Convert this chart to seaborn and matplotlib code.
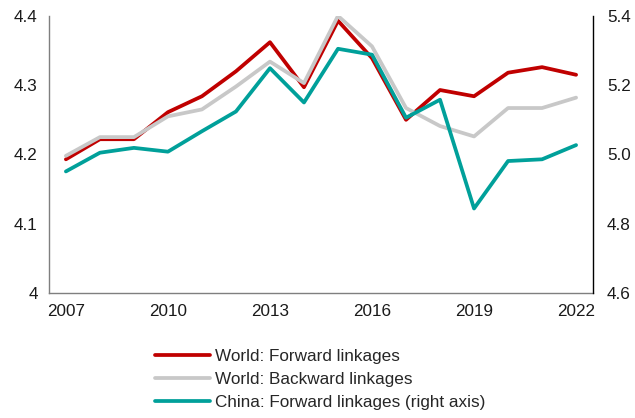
import matplotlib
matplotlib.use("Agg")
import matplotlib.pyplot as plt
import seaborn as sns
import pandas as pd

years = list(range(2007, 2023))
world_forward = [4.193, 4.222, 4.222, 4.261, 4.284, 4.320, 4.362, 4.297,
                 4.393, 4.339, 4.250, 4.293, 4.284, 4.318, 4.326, 4.315]
world_backward = [4.198, 4.225, 4.225, 4.255, 4.265, 4.298, 4.334, 4.303,
                  4.400, 4.356, 4.267, 4.241, 4.226, 4.267, 4.267, 4.282]
china_forward = [4.951, 5.005, 5.019, 5.008, 5.067, 5.124, 5.249, 5.150,
                 5.305, 5.288, 5.106, 5.158, 4.844, 4.981, 4.986, 5.027]
labels = ["World: Forward linkages", "World: Backward linkages",
          "China: Forward linkages (right axis)"]
left_ticks = [4.0, 4.1, 4.2, 4.3, 4.4]
left_ticklabels = ["4", "4.1", "4.2", "4.3", "4.4"]
right_ticks = [4.6, 4.8, 5.0, 5.2, 5.4]
right_ticklabels = ["4.6", "4.8", "5.0", "5.2", "5.4"]
x_ticks = [2007, 2010, 2013, 2016, 2019, 2022]

sns.set_style("white")
plt.rcParams['font.family'] = ['Liberation Sans', 'DejaVu Sans']

df = pd.DataFrame({"year": years, "wf": world_forward, "wb": world_backward,
                   "cf": china_forward})

fig = plt.figure(figsize=(6.35, 4.18), dpi=100)
ax = fig.add_axes([0.077, 0.299, 0.857, 0.663])
ax2 = ax.twinx()

red = "#C00000"
gray = "#C8C8C8"
teal = "#00A09A"
lw = 2.7
fs = 12.3

sns.lineplot(data=df, x="year", y="wf", ax=ax, color=red, linewidth=lw, label=labels[0], legend=False)
sns.lineplot(data=df, x="year", y="wb", ax=ax, color=gray, linewidth=lw, label=labels[1], legend=False)
sns.lineplot(data=df, x="year", y="cf", ax=ax2, color=teal, linewidth=lw, label=labels[2], legend=False)

ax.set_xlim(2006.5, 2022.5)
ax.set_ylim(4.0, 4.4)
ax2.set_ylim(4.6, 5.4)
ax.set_xticks(x_ticks)
ax.set_xticklabels([str(y) for y in x_ticks], fontsize=fs)
ax.set_yticks(left_ticks)
ax.set_yticklabels(left_ticklabels, fontsize=fs)
ax2.set_yticks(right_ticks)
ax2.set_yticklabels(right_ticklabels, fontsize=fs)
ax.set_xlabel("")
ax.set_ylabel("")
ax2.set_ylabel("")
ax.tick_params(axis='x', length=0, pad=8, colors="#1a1a1a")
ax.tick_params(axis='y', length=0, pad=8, colors="#1a1a1a")
ax2.tick_params(axis='y', length=0, pad=10, colors="#1a1a1a")

for a in (ax, ax2):
    a.spines['top'].set_visible(False)
    for s in ('left', 'right', 'bottom'):
        a.spines[s].set_color("#7f7f7f")
        a.spines[s].set_linewidth(1.0)
ax.spines['right'].set_visible(False)
ax2.spines['left'].set_visible(False)
ax2.spines['bottom'].set_visible(False)
ax2.spines['right'].set_color("#000000")

h1, l1 = ax.get_legend_handles_labels()
h2, l2 = ax2.get_legend_handles_labels()
handles = dict(zip(l1 + l2, h1 + h2))
leg = fig.legend([handles[l] for l in labels], labels, loc="upper left",
                 bbox_to_anchor=(0.244, 0.165), frameon=False, fontsize=fs,
                 handlelength=3.2, handletextpad=0.3, labelspacing=0.48,
                 borderaxespad=0, borderpad=0)
leg.set_bbox_to_anchor((0.244, 0.165), transform=fig.transFigure)

fig.savefig("out.png", dpi=100)
